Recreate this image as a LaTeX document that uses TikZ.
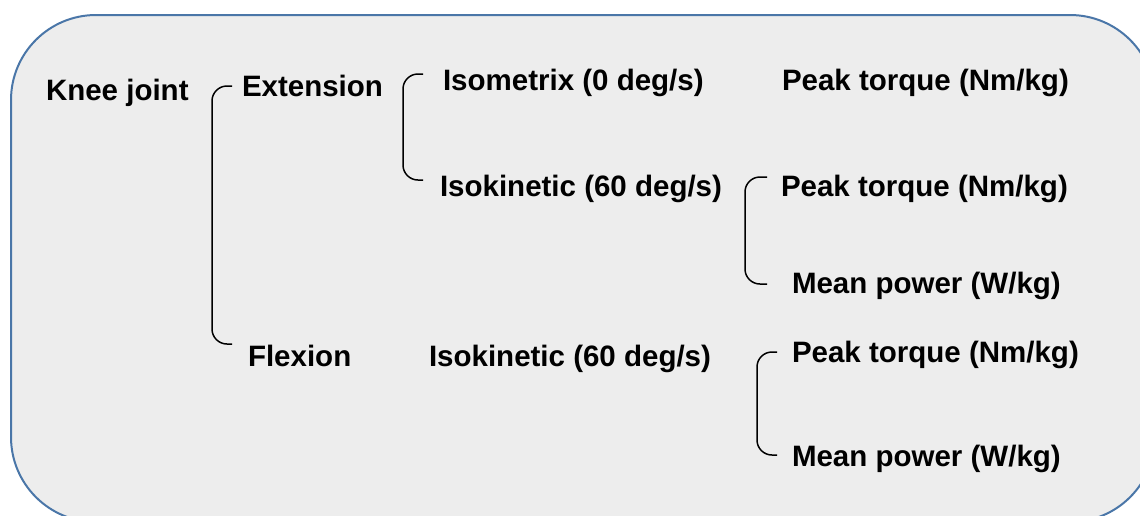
\documentclass[tikz,border=0pt]{standalone}
\usepackage{fontspec}
\setmainfont{Liberation Sans}
\usetikzlibrary{calc}

\definecolor{panelfill}{HTML}{EDEDED}
\definecolor{panelline}{HTML}{4A76A8}

\tikzset{
  lbl/.style={anchor=base west, inner sep=0pt, outer sep=0pt,
    font=\fontsize{29.5}{34}\selectfont\bfseries, text=black},
  brk/.style={draw=black, line width=1.5pt, rounded corners=15pt},
  panel/.style={draw=panelline, fill=panelfill, line width=2pt, rounded corners=85pt}
}

\begin{document}
\begin{tikzpicture}[x=1pt, y=-1pt]
  \useasboundingbox (0,0) rectangle (1140,515);
  \clip (0,0) rectangle (1140,515);

  % background panel
  \draw[panel] (11,15) rectangle (1155,522);

  % labels
  \node[lbl] (knee)  at (46,100.5)  {Knee joint};
  \node[lbl] (ext)   at (242,96.5)  {Extension};
  \node[lbl] (isom)  at (443,90)    {Isometrix (0 deg/s)};
  \node[lbl] (pt1)   at (782,90)    {Peak torque (Nm/kg)};
  \node[lbl] (isok1) at (440,196)   {Isokinetic (60 deg/s)};
  \node[lbl] (pt2)   at (781,196)   {Peak torque (Nm/kg)};
  \node[lbl] (mp1)   at (792,293)   {Mean power (W/kg)};
  \node[lbl] (flex)  at (248,366)   {Flexion};
  \node[lbl] (isok2) at (429,366)   {Isokinetic (60 deg/s)};
  \node[lbl] (pt3)   at (792,362)   {Peak torque (Nm/kg)};
  \node[lbl] (mp2)   at (792,466)   {Mean power (W/kg)};

  % bracket end points
  \coordinate (kt) at (232,86);
  \coordinate (kb) at (232,344);
  \coordinate (et) at (423,74);
  \coordinate (eb) at (423,180);
  \coordinate (it) at (767,177);
  \coordinate (ib) at (767,284);
  \coordinate (ft) at (777,352);
  \coordinate (fb) at (777,455);

  % brackets
  \draw[brk] (kt) -- ++(-20,0) |- (kb);
  \draw[brk] (et) -- ++(-20,0) |- (eb);
  \draw[brk] (it) -- ++(-22,0) |- (ib);
  \draw[brk] (ft) -- ++(-20,0) |- (fb);
\end{tikzpicture}
\end{document}
